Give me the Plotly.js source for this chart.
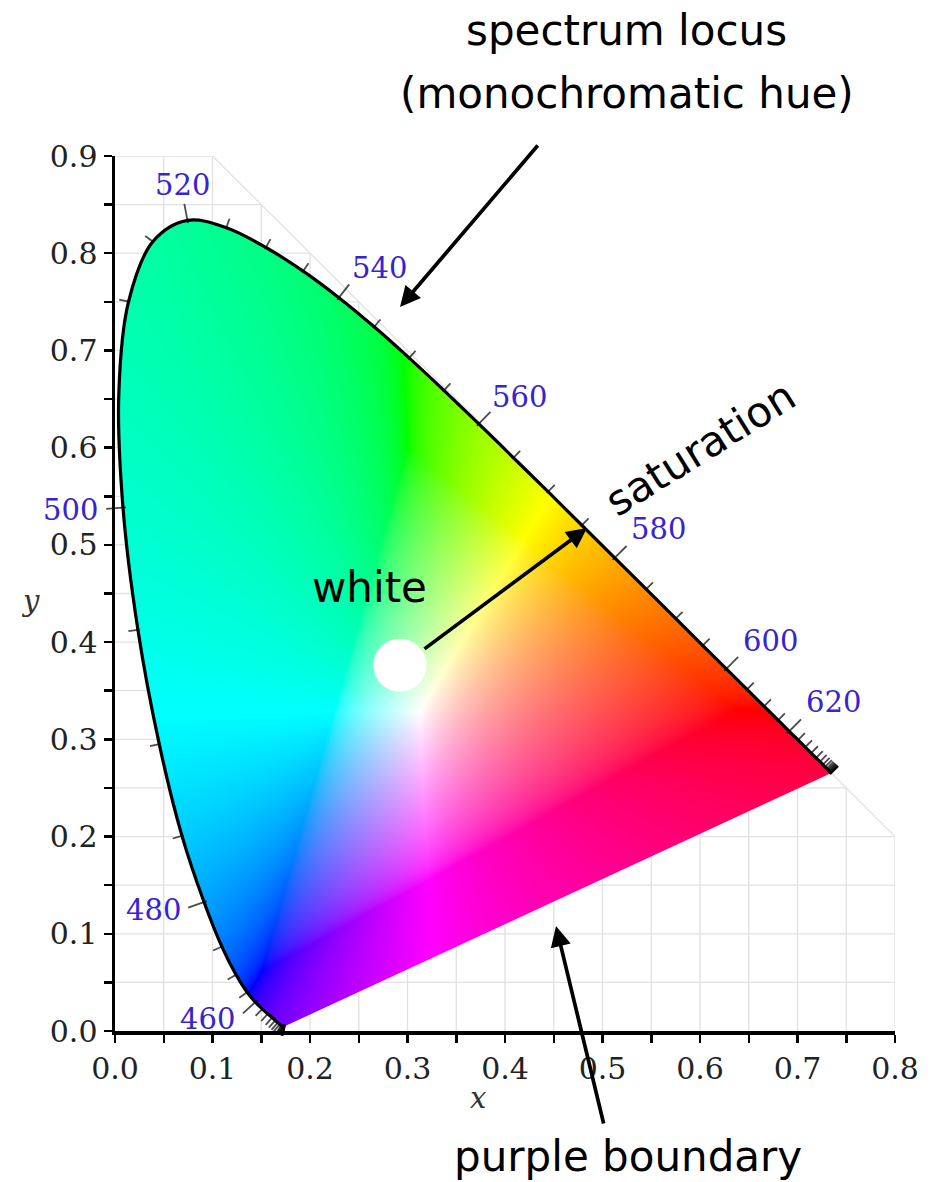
<!DOCTYPE html>
<html>
<head>
<meta charset="utf-8">
<script src="https://cdn.plot.ly/plotly-3.0.1.min.js"></script>
<style>html,body{margin:0;padding:0;background:#fff}#chart{width:934px;height:1182px}</style>
</head>
<body>
<div id="chart"></div>
<script>
// ---------------- DATA (CIE 1931 2° spectrum locus) ----------------
const wavelengths = [380,385,390,395,400,405,410,415,420,425,430,435,440,445,450,455,460,465,470,475,480,485,490,495,500,505,510,515,520,525,530,535,540,545,550,555,560,565,570,575,580,585,590,595,600,605,610,615,620,625,630,635,640,645,650,655,660,665,670,675,680,685,690,695,700];
const locusX = [0.1741,0.1740,0.1738,0.1736,0.1733,0.1730,0.1726,0.1721,0.1714,0.1703,0.1689,0.1669,0.1644,0.1611,0.1566,0.1510,0.1440,0.1355,0.1241,0.1096,0.0913,0.0687,0.0454,0.0235,0.0082,0.0039,0.0139,0.0389,0.0743,0.1142,0.1547,0.1929,0.2296,0.2658,0.3016,0.3373,0.3731,0.4087,0.4441,0.4788,0.5125,0.5448,0.5752,0.6029,0.6270,0.6482,0.6658,0.6801,0.6915,0.7006,0.7079,0.7140,0.7190,0.7230,0.7260,0.7283,0.7300,0.7311,0.7320,0.7327,0.7334,0.7340,0.7344,0.7346,0.7347];
const locusY = [0.0050,0.0050,0.0049,0.0049,0.0048,0.0048,0.0048,0.0048,0.0051,0.0058,0.0069,0.0086,0.0109,0.0138,0.0177,0.0227,0.0297,0.0399,0.0578,0.0868,0.1327,0.2007,0.2950,0.4127,0.5384,0.6548,0.7502,0.8120,0.8338,0.8262,0.8059,0.7816,0.7543,0.7243,0.6923,0.6589,0.6245,0.5896,0.5547,0.5202,0.4866,0.4544,0.4242,0.3965,0.3725,0.3514,0.3340,0.3197,0.3083,0.2993,0.2920,0.2859,0.2809,0.2770,0.2740,0.2717,0.2700,0.2689,0.2680,0.2673,0.2666,0.2660,0.2656,0.2654,0.2653];
const labeledWavelengths = [460,480,500,520,540,560,580,600,620];
const whiteX = [0.2923];
const whiteY = [0.3763];

// ---------------- LAYOUT / STYLE ----------------
const FIG_W = 934, FIG_H = 1182;
const MARGIN = {l:115, r:39, t:156, b:151, pad:0};
const X_RANGE = [0, 0.8], Y_RANGE = [0, 0.9];
const PW = FIG_W - MARGIN.l - MARGIN.r;
const PH = FIG_H - MARGIN.t - MARGIN.b;
const XS = PW / (X_RANGE[1] - X_RANGE[0]);
const YS = PH / (Y_RANGE[1] - Y_RANGE[0]);
const GRID_STEP = 0.05;
const BLUE = '#3524cf';
const SANS = 'DejaVu Sans';
const SERIF = 'DejaVu Serif';
const TICK_LEN = 8, TICK_LEN_LABELED = 14;
// label centre offsets in px from locus point (dx right, dy down)
const WL_LABEL_OFFSET = {460:[-48,17],480:[-51,8],500:[-53,2],520:[-5,-35],540:[41,-30],560:[41,-27],580:[44,-29],600:[44,-28],620:[44,-29]};

// figure pixel -> data / paper
function pxToData(px, py) {
  return [X_RANGE[0] + (px - MARGIN.l) / XS, Y_RANGE[0] + (MARGIN.t + PH - py) / YS];
}
function pxToPaper(px, py) {
  return [(px - MARGIN.l) / PW, (MARGIN.t + PH - py) / PH];
}

// ---------------- colour of chromaticity ----------------
function gammaEnc(c) {
  return c <= 0.0031308 ? 12.92 * c : 1.055 * Math.pow(c, 1 / 2.4) - 0.055;
}
function xyToRGB(x, y) {
  const X = x, Y = y, Z = 1 - x - y;
  let r =  3.2406 * X - 1.5372 * Y - 0.4986 * Z;
  let g = -0.9689 * X + 1.8758 * Y + 0.0415 * Z;
  let b =  0.0557 * X - 0.2040 * Y + 1.0570 * Z;
  const mn = Math.min(r, g, b);
  if (mn < 0) { r -= mn; g -= mn; b -= mn; }
  const mx = Math.max(r, g, b) || 1;
  r /= mx; g /= mx; b /= mx;
  // mild saturation boost of pale tones
  r = Math.pow(r, 1.25); g = Math.pow(g, 1.25); b = Math.pow(b, 1.25);
  return [Math.round(255 * gammaEnc(r)), Math.round(255 * gammaEnc(g)), Math.round(255 * gammaEnc(b))];
}

// ---------------- mask replicating Plotly spline ----------------
function makeTangent(prev, cur, next, s) {
  const d1x = prev[0] - cur[0], d1y = prev[1] - cur[1];
  const d2x = next[0] - cur[0], d2y = next[1] - cur[1];
  const d1a = Math.pow(d1x * d1x + d1y * d1y, 0.25);
  const d2a = Math.pow(d2x * d2x + d2y * d2y, 0.25);
  const numx = (d2a * d2a * d1x - d1a * d1a * d2x) * s;
  const numy = (d2a * d2a * d1y - d1a * d1a * d2y) * s;
  const den1 = 3 * d2a * (d1a + d2a), den2 = 3 * d1a * (d1a + d2a);
  return [[cur[0] + (den1 && numx / den1), cur[1] + (den1 && numy / den1)],
          [cur[0] - (den2 && numx / den2), cur[1] - (den2 && numy / den2)]];
}

const n = locusX.length;
const cols = Math.ceil((Math.max(...locusX) - X_RANGE[0]) * XS) + 3;
const rowTop = Math.max(0, Math.floor((Y_RANGE[1] - Math.max(...locusY)) * YS) - 3);
const rowsN = PH - rowTop;
const cv = document.createElement('canvas');
cv.width = cols; cv.height = rowsN;
const ctx = cv.getContext('2d');
const pts = locusX.map((x, i) => [(x - X_RANGE[0]) * XS, (Y_RANGE[1] - locusY[i]) * YS - rowTop]);
const tg = [];
for (let i = 1; i < n - 1; i++) tg.push(makeTangent(pts[i - 1], pts[i], pts[i + 1], 1));
ctx.beginPath();
ctx.moveTo(pts[0][0], pts[0][1]);
ctx.quadraticCurveTo(tg[0][0][0], tg[0][0][1], pts[1][0], pts[1][1]);
for (let i = 2; i < n - 1; i++) {
  ctx.bezierCurveTo(tg[i - 2][1][0], tg[i - 2][1][1], tg[i - 1][0][0], tg[i - 1][0][1], pts[i][0], pts[i][1]);
}
ctx.quadraticCurveTo(tg[n - 3][1][0], tg[n - 3][1][1], pts[n - 1][0], pts[n - 1][1]);
ctx.closePath();
ctx.fillStyle = '#000';
ctx.fill();
const alphaData = ctx.getImageData(0, 0, cols, rowsN).data;

const EMPTY = [0, 0, 0, 0];
const zImg = new Array(rowsN);
for (let j = 0; j < rowsN; j++) {
  const row = new Array(cols);
  const cr = rowsN - 1 - j;
  const yv = Y_RANGE[0] + (j + 0.5) / YS;
  for (let i = 0; i < cols; i++) {
    const a = alphaData[(cr * cols + i) * 4 + 3];
    if (a === 0) { row[i] = EMPTY; continue; }
    const c = xyToRGB(X_RANGE[0] + (i + 0.5) / XS, yv);
    row[i] = [c[0], c[1], c[2], a / 255];
  }
  zImg[j] = row;
}

// ---------------- grid (clipped to x + y <= 1), drawn below traces ----------------
let gridPath = '';
for (let k = 1; k * GRID_STEP <= Y_RANGE[1] + 1e-9; k++) {
  const y = +(k * GRID_STEP).toFixed(4);
  gridPath += 'M' + X_RANGE[0] + ',' + y + 'L' + Math.min(X_RANGE[1], 1 - y).toFixed(4) + ',' + y;
}
for (let k = 1; k * GRID_STEP <= X_RANGE[1] + 1e-9; k++) {
  const x = +(k * GRID_STEP).toFixed(4);
  gridPath += 'M' + x + ',' + Y_RANGE[0] + 'L' + x + ',' + Math.min(Y_RANGE[1], 1 - x).toFixed(4);
}
gridPath += 'M' + (1 - Y_RANGE[1]).toFixed(4) + ',' + Y_RANGE[1] + 'L' + X_RANGE[1] + ',' + (1 - X_RANGE[1]).toFixed(4);

// ---------------- wavelength tick marks ----------------
const P = locusX.map((x, i) => [x * XS, locusY[i] * YS]);
const dist = (a, b) => Math.hypot(a[0] - b[0], a[1] - b[1]);
const tickX = [], tickY = [], tickAng = [], tickSize = [];
for (let k = 0; k < n; k++) {
  let jp = k - 1; while (jp >= 0 && dist(P[jp], P[k]) < 3) jp--; if (jp < 0) jp = k;
  let jn = k + 1; while (jn < n && dist(P[jn], P[k]) < 3) jn++; if (jn >= n) jn = k;
  let tx = P[jn][0] - P[jp][0], ty = P[jn][1] - P[jp][1];
  const tl = Math.hypot(tx, ty) || 1; tx /= tl; ty /= tl;
  const nx = -ty, ny = tx; // outward normal (y up)
  const len = labeledWavelengths.includes(wavelengths[k]) ? TICK_LEN_LABELED : TICK_LEN;
  tickX.push(locusX[k] + nx * len / 2 / XS);
  tickY.push(locusY[k] + ny * len / 2 / YS);
  tickAng.push(Math.atan2(nx, ny) * 180 / Math.PI);
  tickSize.push(len);
}

// ---------------- traces ----------------
const traces = [
  {type:'image', z:zImg, colormodel:'rgba', x0:X_RANGE[0] + 0.5 / XS, dx:1 / XS, y0:Y_RANGE[0] + 0.5 / YS, dy:1 / YS, hoverinfo:'skip'},
  {type:'scatter', mode:'lines', x:locusX, y:locusY, line:{color:'#000', width:3.2, shape:'spline', smoothing:1, simplify:false}, hoverinfo:'skip', showlegend:false},
  {type:'scatter', mode:'markers', x:tickX, y:tickY, cliponaxis:false,
   marker:{symbol:'line-ns', size:tickSize, angle:tickAng, color:'#000', line:{color:'#000', width:1.8}}, hoverinfo:'skip', showlegend:false},
  {type:'scatter', mode:'markers', x:whiteX, y:whiteY, cliponaxis:false,
   marker:{size:53, color:'#ffffff', line:{width:0}}, hoverinfo:'skip', showlegend:false}
];

// ---------------- annotations ----------------
const annotations = [];
labeledWavelengths.forEach(w => {
  const i = wavelengths.indexOf(w);
  const off = WL_LABEL_OFFSET[w];
  annotations.push({x:locusX[i], y:locusY[i], xref:'x', yref:'y', text:String(w), showarrow:false,
    xanchor:'center', yanchor:'middle', xshift:off[0], yshift:-off[1],
    font:{family:SERIF, size:29, color:BLUE}});
});
function textAnn(txt, px, py, opts) {
  const d = pxToPaper(px, py);
  return Object.assign({x:d[0], y:d[1], xref:'paper', yref:'paper', text:txt, showarrow:false,
    xanchor:'center', yanchor:'middle', font:{family:SANS, size:42, color:'#000'}}, opts || {});
}
function arrowAnn(headPx, headPy, tailPx, tailPy) {
  const d = pxToData(headPx, headPy);
  return {x:d[0], y:d[1], xref:'x', yref:'y', text:'', showarrow:true, arrowhead:2, arrowsize:1.1,
    arrowwidth:3.7, arrowcolor:'#000', ax:tailPx - headPx, ay:tailPy - headPy, standoff:0, startstandoff:0};
}
annotations.push(textAnn('spectrum locus', 626, 30));
annotations.push(textAnn('(monochromatic hue)', 627, 94));
annotations.push(textAnn('white', 369, 587));
annotations.push(textAnn('saturation', 700, 448, {textangle:-32}));
annotations.push(textAnn('purple boundary', 628, 1156));
annotations.push(textAnn('<i>x</i>', 478, 1098, {font:{family:SERIF, size:29, color:'#333'}}));
annotations.push(textAnn('<i>y</i>', 30, 601, {font:{family:SERIF, size:29, color:'#333'}}));
annotations.push(arrowAnn(400, 307, 539, 144));
annotations.push(arrowAnn(587, 528, 423, 650));
annotations.push(arrowAnn(556, 926, 604, 1125));

const axisCommon = {
  showgrid:false, zeroline:false, showline:true, linecolor:'#000', linewidth:3.5,
  ticks:'outside', ticklen:8, tickwidth:2.5, tickcolor:'#000', dtick:0.1, tick0:0, tickformat:'.1f',
  tickfont:{family:SERIF, size:30, color:'#222'}, autorange:false, fixedrange:true,
  minor:{dtick:GRID_STEP, tick0:0, ticks:'outside', ticklen:8, tickwidth:2.5, tickcolor:'#000', showgrid:false}
};

const layout = {
  width:FIG_W, height:FIG_H, margin:MARGIN, paper_bgcolor:'#fff', plot_bgcolor:'#fff', showlegend:false,
  xaxis:Object.assign({}, axisCommon, {range:X_RANGE}),
  yaxis:Object.assign({}, axisCommon, {range:Y_RANGE, scaleanchor:false}),
  shapes:[{type:'path', xref:'x', yref:'y', layer:'below', path:gridPath, line:{color:'#e1e1e1', width:1.3}, fillcolor:'rgba(0,0,0,0)'}],
  annotations:annotations
};

Plotly.newPlot('chart', traces, layout, {displayModeBar:false, staticPlot:true});
</script>
</body>
</html>
